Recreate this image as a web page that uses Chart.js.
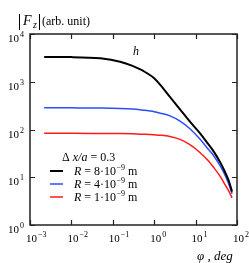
<!DOCTYPE html>
<html>
<head>
<meta charset="utf-8">
<script src="https://cdn.jsdelivr.net/npm/chart.js@4/dist/chart.umd.min.js"></script>
<style>
  body { margin: 0; background: #fff; }
  canvas { display: block; }
</style>
</head>
<body>
<canvas id="graf" width="249" height="263"></canvas>
<script>
// angle phi (deg)
var phi = [0.0022, 0.01, 0.05, 0.15, 0.3, 0.45, 0.6, 0.8, 1.0, 1.4, 2.4, 4.2, 7.3, 12.7, 20, 26, 40, 50, 62, 76];

// |Fz| for each R
var fzR8 = [3300, 3280, 3090, 2630, 2150, 1830, 1600, 1370, 1180, 860, 480, 265, 146, 84, 50, 37, 20, 13.5, 8.8, 5.0];
var fzR4 = [285, 284, 282, 276, 268, 260, 252, 244, 236, 220, 193, 150, 104, 63, 39, 30, 16.8, 11.6, 7.6, 4.5];
var fzR1 = [83, 83, 82.5, 82, 81, 80, 79.5, 78.5, 77.5, 76, 71.5, 62, 48, 33, 22.5, 17, 10.2, 7.3, 5.3, 3.7];

var seriesLabels = ['8', '4', '1'];
var seriesColors = ['#000000', '#2b4cff', '#ff1a1a'];

var xTicks = [-3, -2, -1, 0, 1, 2];
var yTicks = [0, 1, 2, 3, 4];

var serif = '"Liberation Serif", "DejaVu Serif", serif';

function pts(ys) {
    return phi.map(function (x, i) { return { x: x, y: ys[i] }; });
}

// 10 with a raised exponent, starts at x
function drawPow(ctx, x, y, exp) {
    ctx.font = '11px ' + serif;
    ctx.textAlign = 'left';
    ctx.fillText('10', x, y);
    var w = ctx.measureText('10').width;
    ctx.font = '8px ' + serif;
    ctx.fillText(String(exp).replace('-', '\u2212'), x + w + 1, y - 5);
}

var decor = {
    id: 'decor',
    afterDraw: function (chart) {
        var ctx = chart.ctx;
        var a = chart.chartArea;
        var sx = chart.scales.x;
        var sy = chart.scales.y;
        ctx.save();
        ctx.fillStyle = '#000';
        ctx.strokeStyle = '#222';

        // frame
        ctx.lineWidth = 1.5;
        ctx.strokeRect(a.left, a.top, a.right - a.left, a.bottom - a.top);

        // inward ticks on all sides
        ctx.lineWidth = 1.2;
        ctx.beginPath();
        xTicks.forEach(function (e) {
            var px = Math.round(sx.getPixelForValue(Math.pow(10, e))) + 0.5;
            ctx.moveTo(px, a.bottom); ctx.lineTo(px, a.bottom - 5);
            ctx.moveTo(px, a.top); ctx.lineTo(px, a.top + 5);
        });
        yTicks.forEach(function (e) {
            var py = Math.round(sy.getPixelForValue(Math.pow(10, e))) + 0.5;
            ctx.moveTo(a.left, py); ctx.lineTo(a.left + 5, py);
            ctx.moveTo(a.right, py); ctx.lineTo(a.right - 5, py);
        });
        ctx.stroke();

        // tick labels
        ctx.textBaseline = 'alphabetic';
        xTicks.forEach(function (e) {
            var px = sx.getPixelForValue(Math.pow(10, e));
            drawPow(ctx, px - 4, a.bottom + 17, e);
        });
        yTicks.forEach(function (e) {
            var py = sy.getPixelForValue(Math.pow(10, e));
            drawPow(ctx, 8, py + 8, e);
        });

        // y title |Fz| (arb. unit)
        ctx.lineWidth = 1;
        ctx.strokeStyle = '#000';
        ctx.beginPath();
        ctx.moveTo(19.5, 14); ctx.lineTo(19.5, 30);
        ctx.moveTo(39.5, 14); ctx.lineTo(39.5, 30);
        ctx.stroke();
        ctx.font = 'italic 14px ' + serif;
        ctx.fillText('F', 23, 25);
        ctx.font = 'italic 10px ' + serif;
        ctx.fillText('z', 33, 28);
        ctx.font = '12px ' + serif;
        ctx.fillText('(arb. unit)', 42, 25);

        // x title
        ctx.font = 'italic 13px ' + serif;
        ctx.fillText('\u03C6 , deg', 197, 260);

        // panel letter
        ctx.font = 'italic 12px ' + serif;
        ctx.fillText('h', 133, 55);

        // legend
        ctx.font = '12px ' + serif;
        ctx.fillText('\u0394 ', 62, 161);
        var x0 = 62 + ctx.measureText('\u0394 ').width;
        ctx.font = 'italic 12px ' + serif;
        ctx.fillText('x/a', x0, 161);
        x0 += ctx.measureText('x/a').width;
        ctx.font = '12px ' + serif;
        ctx.fillText(' = 0.3', x0, 161);

        seriesLabels.forEach(function (r, i) {
            var ly = 171 + i * 13;
            ctx.strokeStyle = seriesColors[i];
            ctx.lineWidth = i === 0 ? 2 : 1.5;
            ctx.beginPath();
            ctx.moveTo(50, ly); ctx.lineTo(63, ly);
            ctx.stroke();
            var tx = 74, ty = ly + 3.5;
            ctx.font = 'italic 12px ' + serif;
            ctx.fillText('R', tx, ty);
            tx += ctx.measureText('R').width;
            ctx.font = '12px ' + serif;
            var s = ' = ' + r + '\u00B710';
            ctx.fillText(s, tx, ty);
            tx += ctx.measureText(s).width + 0.5;
            ctx.font = '8px ' + serif;
            ctx.fillText('\u22129', tx, ty - 5);
            tx += ctx.measureText('\u22129').width;
            ctx.font = '12px ' + serif;
            ctx.fillText(' m', tx, ty);
        });

        ctx.restore();
    }
};

var ctx = document.getElementById('graf');
var graf = new Chart(ctx, {
    type: 'line',
    data: {
        datasets: [
            { data: pts(fzR8), borderColor: seriesColors[0], borderWidth: 2 },
            { data: pts(fzR4), borderColor: seriesColors[1], borderWidth: 1.5 },
            { data: pts(fzR1), borderColor: seriesColors[2], borderWidth: 1.5 }
        ]
    },
    options: {
        responsive: false,
        animation: false,
        elements: {
            point: { radius: 0 },
            line: { cubicInterpolationMode: 'monotone', fill: false }
        },
        layout: { padding: { left: 30, right: 12, top: 34, bottom: 38 } },
        scales: {
            x: { type: 'logarithmic', min: 1e-3, max: 1e2, display: false },
            y: { type: 'logarithmic', min: 1, max: 1e4, display: false }
        },
        plugins: {
            legend: { display: false },
            tooltip: { enabled: false }
        }
    },
    plugins: [decor]
});
</script>
</body>
</html>
